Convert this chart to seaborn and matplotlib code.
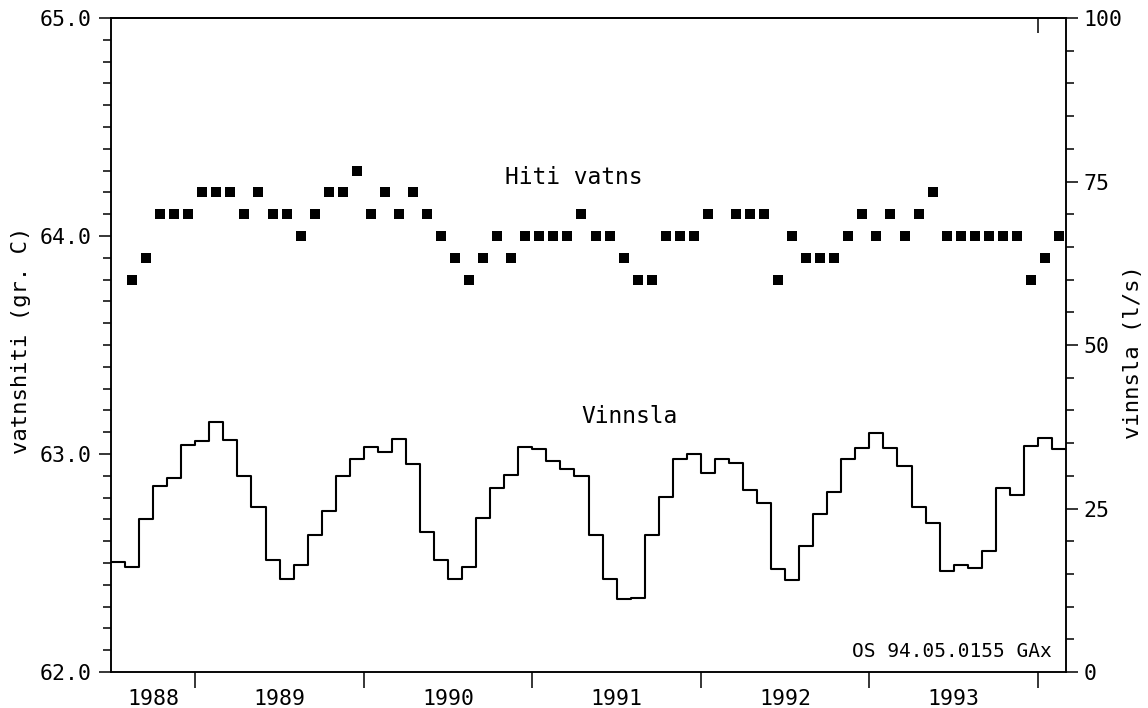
import numpy as np
import pandas as pd
import matplotlib
matplotlib.use("Agg")
import matplotlib.pyplot as plt
import seaborn as sns
from matplotlib.ticker import MultipleLocator, FixedLocator, FixedFormatter, NullFormatter, FormatStrFormatter

# monthly values, July 1988 - February 1994
months = pd.period_range("1988-07", "1994-02", freq="M")

# water temperature (gr. C); no reading for Jul 1988 and Feb 1992
hiti = [np.nan, 63.8, 63.9, 64.1, 64.1, 64.1,
        64.2, 64.2, 64.2, 64.1, 64.2, 64.1, 64.1, 64.0, 64.1, 64.2, 64.2, 64.3,
        64.1, 64.2, 64.1, 64.2, 64.1, 64.0, 63.9, 63.8, 63.9, 64.0, 63.9, 64.0,
        64.0, 64.0, 64.0, 64.1, 64.0, 64.0, 63.9, 63.8, 63.8, 64.0, 64.0, 64.0,
        64.1, np.nan, 64.1, 64.1, 64.1, 63.8, 64.0, 63.9, 63.9, 63.9, 64.0, 64.1,
        64.0, 64.1, 64.0, 64.1, 64.2, 64.0, 64.0, 64.0, 64.0, 64.0, 64.0, 63.8,
        63.9, 64.0]

# production flow (l/s)
vinnsla = [16.8, 16.1, 23.4, 28.4, 29.7, 34.7,
           35.4, 38.2, 35.5, 29.9, 25.2, 17.2, 14.2, 16.3, 21.0, 24.6, 29.9, 32.6,
           34.4, 33.7, 35.7, 31.8, 21.4, 17.2, 14.3, 16.1, 23.6, 28.1, 30.2, 34.4,
           34.1, 32.3, 31.1, 29.9, 20.9, 14.2, 11.1, 11.3, 20.9, 26.7, 32.6, 33.3,
           30.5, 32.6, 32.0, 27.9, 25.8, 15.7, 14.0, 19.2, 24.2, 27.5, 32.5, 34.2,
           36.5, 34.2, 31.5, 25.2, 22.8, 15.5, 16.3, 15.9, 18.5, 28.1, 27.0, 34.6,
           35.8, 34.1]

year_labels = ["1988", "1989", "1990", "1991", "1992", "1993"]

# decimal-year positions: month start for the steps, mid-month for the squares
m_start = np.asarray(months.year + (months.month - 1) / 12.0, dtype=float)
m_mid = m_start + 1 / 24.0
edges = np.append(m_start, m_start[-1] + 1 / 12.0)
steps = np.append(vinnsla, vinnsla[-1])

sns.set_theme(style="ticks")
plt.rcParams["font.family"] = ["DejaVu Sans Mono", "DejaVu Sans"]
plt.rcParams["axes.linewidth"] = 1.1
for key in ("text.color", "axes.labelcolor", "xtick.color", "ytick.color", "axes.edgecolor"):
    plt.rcParams[key] = "black"

fig = plt.figure(figsize=(11.48, 7.08), dpi=100)
ax = fig.add_axes([0.0967, 0.0508, 0.8319, 0.9237])
ax2 = ax.twinx()

sns.lineplot(x=edges, y=steps, drawstyle="steps-post", estimator=None,
             color="black", linewidth=1.5, ax=ax2)
sns.scatterplot(x=m_mid, y=hiti, marker="s", s=44, color="black",
                edgecolor="black", linewidth=0, ax=ax)

xmin, xmax = m_start[0], edges[-1]
ax.set_xlim(xmin, xmax)
ax.set_ylim(62.0, 65.0)
ax2.set_ylim(0, 100)

# year boundaries as ticks, year names centred in the visible part of each year
years = [int(y) for y in year_labels]
label_pos = [(max(y, xmin) + min(y + 1, xmax)) / 2 for y in years]
ax.xaxis.set_major_locator(FixedLocator(np.arange(1989, 1995)))
ax.xaxis.set_major_formatter(NullFormatter())
ax.xaxis.set_minor_locator(FixedLocator(label_pos))
ax.xaxis.set_minor_formatter(FixedFormatter(year_labels))
ax.tick_params(axis="x", which="major", direction="out", length=11.5, width=1.1, colors="black")
ax.tick_params(axis="x", which="minor", length=0, pad=12, labelsize=15.5, labelcolor="black")

ax.yaxis.set_major_locator(MultipleLocator(1.0))
ax.yaxis.set_major_formatter(FormatStrFormatter("%.1f"))
ax.yaxis.set_minor_locator(MultipleLocator(0.1))
ax.tick_params(axis="y", which="major", direction="out", length=8.6, width=1.1, pad=5, labelsize=15.5)
ax.tick_params(axis="y", which="minor", direction="out", length=5.8, width=1.1)

ax2.yaxis.set_major_locator(MultipleLocator(25))
ax2.yaxis.set_minor_locator(MultipleLocator(5))
ax2.tick_params(axis="y", which="major", direction="out", length=8.6, width=1.1, pad=4, labelsize=15.5)
ax2.tick_params(axis="y", which="minor", direction="out", length=5.8, width=1.1)

# single inward tick on the top frame at the last year boundary
top = ax.secondary_xaxis("top")
top.set_xticks([1994])
top.set_xticklabels([])
top.tick_params(direction="in", length=11, width=1.1)

for a in (ax, ax2):
    for sp in a.spines.values():
        sp.set_visible(True)
        sp.set_color("black")
        sp.set_linewidth(1.1)

ax.set_xlabel("")
ax.set_ylabel("vatnshiti (gr. C)", fontsize=16)
ax.yaxis.set_label_coords(-0.084, 0.507)
ax2.set_ylabel("vinnsla (l/s)", fontsize=16, rotation=90)
ax2.yaxis.set_label_coords(1.060, 0.49)

ax.text(1990.84, 64.27, "Hiti vatns", fontsize=16.5, ha="left", va="center")
ax.text(1991.29, 63.17, "Vinnsla", fontsize=16.5, ha="left", va="center")
ax.text(0.985, 0.032, "OS 94.05.0155 GAx", fontsize=14, ha="right", va="center",
        transform=ax.transAxes)

fig.savefig("out.png", dpi=100, facecolor="white")
